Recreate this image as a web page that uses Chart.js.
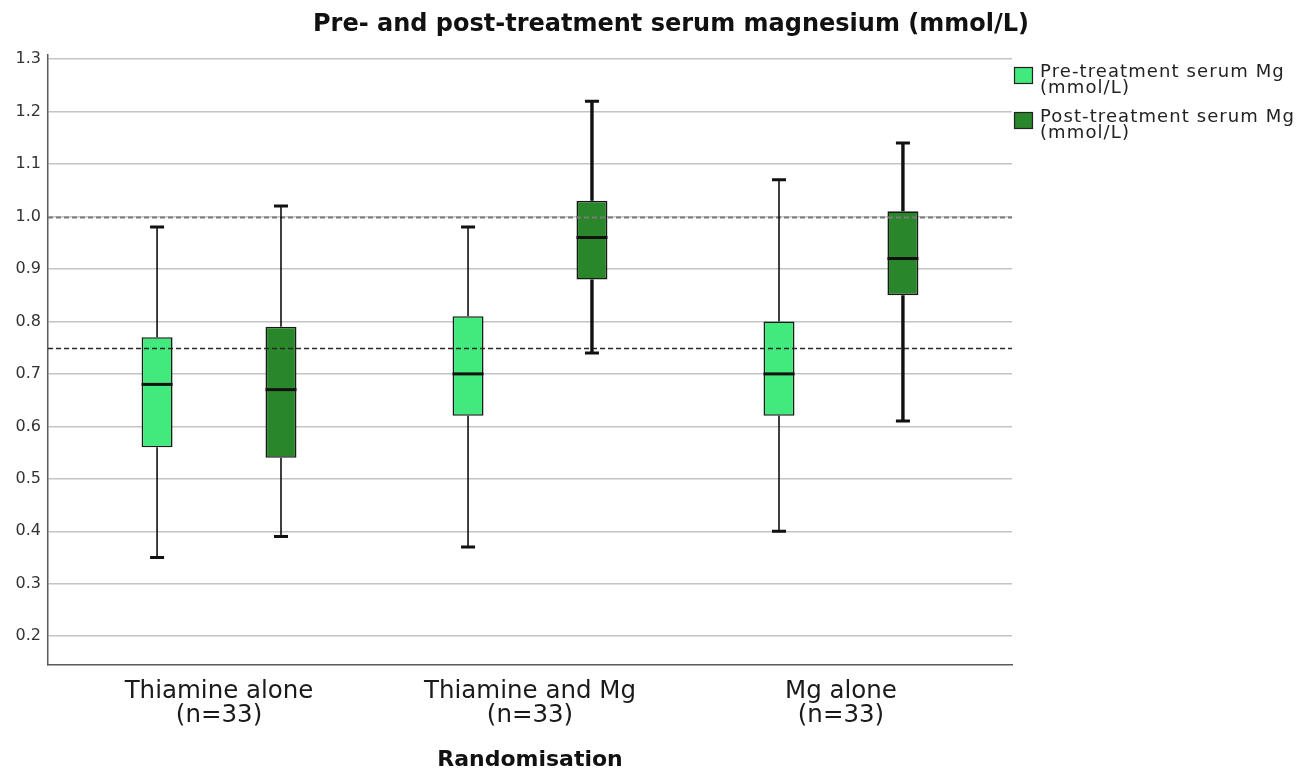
<!DOCTYPE html>
<html>
<head>
<meta charset="utf-8">
<title>Serum magnesium box plot</title>
<style>
  html, body { margin: 0; padding: 0; background: #fff; }
  #wrap { width: 1314px; height: 773px; }
</style>
</head>
<body>
<div id="wrap"><canvas id="chart-mg" width="1314" height="773"></canvas></div>
<script src="https://cdn.jsdelivr.net/npm/chart.js@4.4.1/dist/chart.umd.min.js"></script>
<script>
var chartTitle = 'Pre- and post-treatment serum magnesium (mmol/L)';
var xTitle = 'Randomisation';
var groups = [['Thiamine alone', '(n=33)'], ['Thiamine and Mg', '(n=33)'], ['Mg alone', '(n=33)']];
var seriesNames = [['Pre-treatment serum Mg', '(mmol/L)'], ['Post-treatment serum Mg', '(mmol/L)']];
var yTicks = [0.2, 0.3, 0.4, 0.5, 0.6, 0.7, 0.8, 0.9, 1.0, 1.1, 1.2, 1.3];
var refLines = [1.0, 0.75];

// box summaries: whisker low, Q1, median, Q3, whisker high
var preLow = [0.35, 0.37, 0.40];
var preQ1 = [0.56, 0.62, 0.62];
var preMed = [0.68, 0.70, 0.70];
var preQ3 = [0.77, 0.81, 0.80];
var preHigh = [0.98, 0.98, 1.07];

var postLow = [0.39, 0.74, 0.61];
var postQ1 = [0.54, 0.88, 0.85];
var postMed = [0.67, 0.96, 0.92];
var postQ3 = [0.79, 1.03, 1.01];
var postHigh = [1.02, 1.22, 1.14];

// whisker stroke widths (the reference draws some whiskers heavier)
var preWhiskerW = [1.6, 1.6, 1.6];
var postWhiskerW = [1.6, 3.4, 3.4];

var FONT = '"DejaVu Sans", Verdana, sans-serif';

function boxes(q1, q3) {
  return q1.map(function (v, i) {
    return { x: i, y: [v, q3[i]] };
  });
}

var boxPlugin = {
  id: 'boxWhiskers',
  afterDatasetsDraw: function (chart) {
    var ctx = chart.ctx;
    var ys = chart.scales.y;
    var area = chart.chartArea;

    ctx.save();
    // dashed reference lines sit on top of the boxes
    refLines.forEach(function (v, k) {
      var py = Math.round(ys.getPixelForValue(v)) + 0.5;
      ctx.beginPath();
      ctx.setLineDash([5, 3]);
      ctx.strokeStyle = k === 0 ? '#7a7a7a' : '#2a2a2a';
      ctx.lineWidth = k === 0 ? 2 : 1.3;
      ctx.moveTo(area.left, py);
      ctx.lineTo(area.right, py);
      ctx.stroke();
    });
    ctx.setLineDash([]);

    chart.data.datasets.forEach(function (ds, di) {
      var meta = chart.getDatasetMeta(di);
      meta.data.forEach(function (bar, i) {
        var x = bar.x;
        var half = bar.width / 2;
        var yLow = ys.getPixelForValue(ds.low[i]);
        var yHigh = ys.getPixelForValue(ds.high[i]);
        var yQ1 = ys.getPixelForValue(ds.data[i].y[0]);
        var yQ3 = ys.getPixelForValue(ds.data[i].y[1]);
        var yMed = ys.getPixelForValue(ds.med[i]);

        ctx.strokeStyle = '#111';
        ctx.lineWidth = ds.whiskerW[i];
        ctx.beginPath();
        ctx.moveTo(x, yQ3);
        ctx.lineTo(x, yHigh);
        ctx.moveTo(x, yQ1);
        ctx.lineTo(x, yLow);
        ctx.stroke();

        ctx.lineWidth = 3;
        ctx.beginPath();
        ctx.moveTo(x - 7, yHigh);
        ctx.lineTo(x + 7, yHigh);
        ctx.moveTo(x - 7, yLow);
        ctx.lineTo(x + 7, yLow);
        ctx.stroke();

        ctx.beginPath();
        ctx.moveTo(x - half, yMed);
        ctx.lineTo(x + half, yMed);
        ctx.stroke();
      });
    });
    ctx.restore();
  },
  afterDraw: function (chart) {
    var ctx = chart.ctx;
    ctx.save();
    // title
    ctx.fillStyle = '#111';
    ctx.font = 'bold 24px ' + FONT;
    ctx.textAlign = 'center';
    ctx.textBaseline = 'alphabetic';
    ctx.fillText(chartTitle, 671, 31);

    // legend
    var lx = 1014;
    var tops = [67, 112];
    ctx.textAlign = 'left';
    ctx.textBaseline = 'top';
    ctx.font = '18px ' + FONT;
    if ('letterSpacing' in ctx) ctx.letterSpacing = '1.1px';
    chart.data.datasets.forEach(function (ds, di) {
      var t = tops[di];
      ctx.fillStyle = ds.backgroundColor;
      ctx.fillRect(lx, t, 19, 17);
      ctx.strokeStyle = '#222';
      ctx.lineWidth = 1.2;
      ctx.strokeRect(lx + 0.5, t + 0.5, 18, 16);
      ctx.fillStyle = '#222';
      ctx.fillText(seriesNames[di][0], lx + 26, t - 4);
      ctx.fillText(seriesNames[di][1], lx + 26, t + 12);
    });
    ctx.restore();
  }
};

new Chart(document.getElementById('chart-mg'), {
  type: 'bar',
  data: {
    datasets: [
      {
        label: seriesNames[0].join(' '),
        data: boxes(preQ1, preQ3),
        low: preLow,
        med: preMed,
        high: preHigh,
        whiskerW: preWhiskerW,
        backgroundColor: '#42e97c',
        borderColor: '#1a1a1a',
        borderWidth: 1.6,
        borderSkipped: false,
        categoryPercentage: 0.797,
        barPercentage: 0.25,
      },
      {
        label: seriesNames[1].join(' '),
        data: boxes(postQ1, postQ3),
        low: postLow,
        med: postMed,
        high: postHigh,
        whiskerW: postWhiskerW,
        backgroundColor: '#2a862a',
        borderColor: '#1a1a1a',
        borderWidth: 1.6,
        borderSkipped: false,
        categoryPercentage: 0.797,
        barPercentage: 0.25,
      },
    ],
  },
  options: {
    responsive: false,
    animation: false,
    layout: { padding: { left: 0, right: 302, top: 55, bottom: 0 } },
    plugins: {
      legend: { display: false },
      title: { display: false },
      tooltip: { enabled: false },
    },
    scales: {
      x: {
        type: 'linear',
        min: -0.55,
        max: 2.55,
        offset: false,
        grid: { display: false, drawTicks: false },
        border: { display: true, color: '#5a5a5a', width: 1.5 },
        afterBuildTicks: function (scale) {
          scale.ticks = groups.map(function (g, i) { return { value: i }; });
        },
        afterFit: function (scale) { scale.height = 108; },
        ticks: {
          padding: 14,
          maxRotation: 0,
          autoSkip: false,
          color: '#1a1a1a',
          font: { family: FONT, size: 24.5, lineHeight: 1.0 },
          callback: function (v) { return groups[v] || ''; },
        },
        title: {
          display: true,
          text: xTitle,
          color: '#111',
          padding: { top: 0, bottom: 0 },
          font: { family: FONT, size: 22, weight: 'bold', lineHeight: 1.2 },
        },
      },
      y: {
        min: 0.145,
        max: 1.308,
        grid: { color: '#c4c4c4', lineWidth: 1.5, drawTicks: false },
        border: { display: true, color: '#5a5a5a', width: 1.5 },
        afterBuildTicks: function (scale) {
          scale.ticks = yTicks.map(function (v) { return { value: v }; });
        },
        afterFit: function (scale) { scale.width = 48; },
        ticks: {
          padding: 7,
          color: '#333',
          font: { family: FONT, size: 16 },
          callback: function (v) { return v.toFixed(1); },
        },
      },
    },
  },
  plugins: [boxPlugin],
});
</script>
</body>
</html>
